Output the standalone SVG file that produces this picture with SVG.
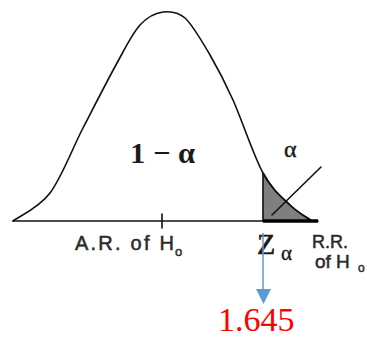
<svg xmlns="http://www.w3.org/2000/svg" width="367" height="339" viewBox="0 0 367 339">
<defs>
<style>
.ln{fill:none;stroke:#111;stroke-width:1.6;stroke-linecap:round;stroke-linejoin:round}
.serif{font-family:"Liberation Serif","DejaVu Serif",serif;fill:#1a1a1a}
.sans{font-family:"Liberation Sans",Arial,sans-serif;fill:#2a2a2a;stroke:#2a2a2a;stroke-width:0.5}
</style>
</defs>
<rect width="367" height="339" fill="#fff"/>
<g id="curve">
<path id="tail" d="M263,173 C272.5,190.5 281.8,197 290,205 C298.2,213 308.3,218.3 312,221 L263,221 Z" fill="#7f7f7f" stroke="#111" stroke-width="1.6"/>
<path class="ln" d="M13,221 C19.2,216.3 38.3,208.5 50,193 C61.7,177.5 71.8,149.7 83,128 C94.2,106.3 107.5,80.2 117,63 C126.5,45.8 132.3,33.5 140,25 C147.7,16.5 155.5,13 163,12 C170.5,11 177.2,11.5 185,18 C192.8,25.2 202,41.3 210,55 C218,68.7 224.2,80.3 233,100 C241.8,119.7 253.5,155.5 263,173 C272.5,190.5 281.8,197 290,205 C298.2,213 308.3,218.3 312,221"/>
</g>
<g id="axis">
<line class="ln" x1="13" y1="221" x2="318" y2="221"/>
<line x1="263" y1="221" x2="318" y2="221" stroke="#000" stroke-width="3.5"/>
<line class="ln" x1="162" y1="214" x2="162" y2="228"/>
<line class="ln" x1="272" y1="215" x2="321" y2="167"/>
</g>
<g id="labels">
<text class="serif" x="130" y="163" font-size="30" font-weight="bold" textLength="65" lengthAdjust="spacingAndGlyphs">1 − α</text>
<text class="serif" x="284" y="157" font-size="24" stroke="#1a1a1a" stroke-width="0.4">α</text>
<text class="sans" x="75" y="250" font-size="20" textLength="99" lengthAdjust="spacing">A.R. of H</text>
<text class="sans" x="175" y="256" font-size="13">o</text>
<text class="serif" x="257" y="254" font-size="30" stroke="#1a1a1a" stroke-width="0.6">Z</text>
<text class="serif" x="281" y="260" font-size="21" stroke="#1a1a1a" stroke-width="0.4">α</text>
<text class="sans" x="312" y="248" font-size="18">R.R.</text>
<text class="sans" x="315" y="268" font-size="19">of H</text>
<text class="sans" x="358" y="272" font-size="12">o</text>
</g>
<g id="connectors">
<line x1="263" y1="233" x2="263" y2="291" stroke="#5B9BD5" stroke-width="1.5"/>
<polygon points="256,289 271,289 263.5,304" fill="#5B9BD5"/>
</g>
<g id="value">
<text x="218" y="331" font-family="'Liberation Serif','DejaVu Serif',serif" font-size="34" fill="#ff0000">1.645</text>
</g>
</svg>
